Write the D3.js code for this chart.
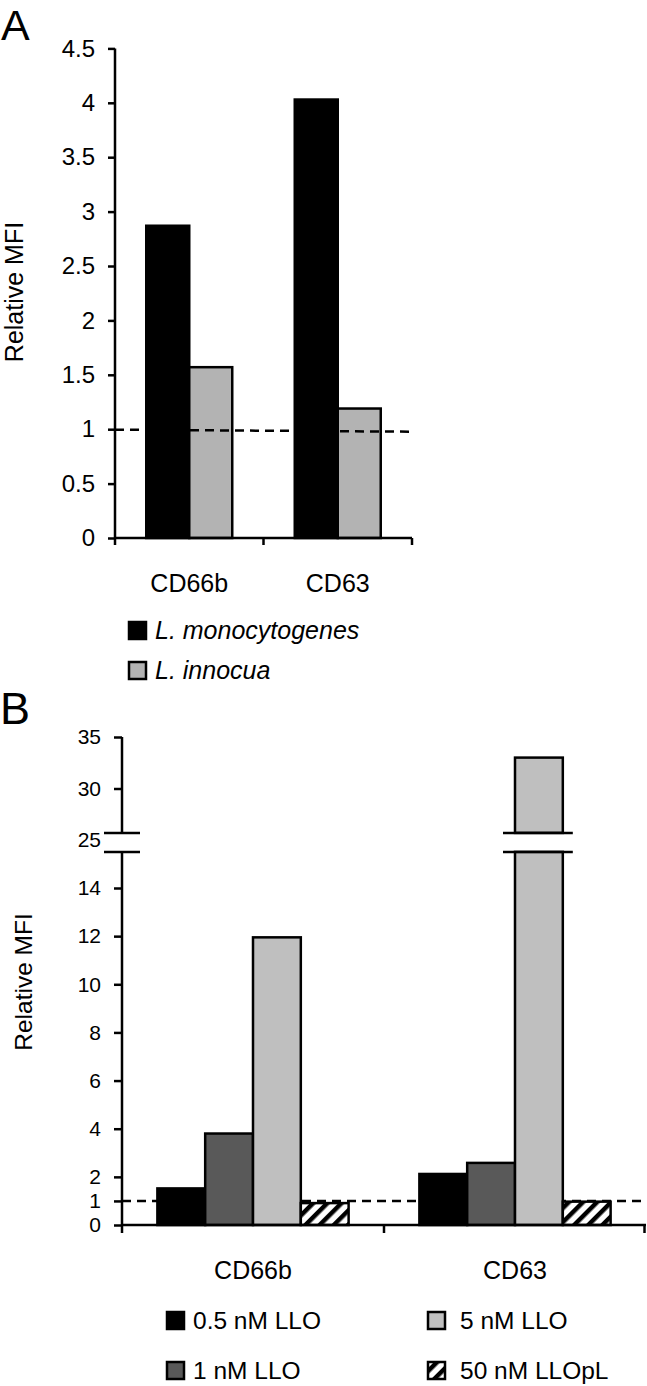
<!DOCTYPE html>
<html><head><meta charset="utf-8">
<script src="https://cdn.jsdelivr.net/npm/d3@7"></script>
<style>html,body{margin:0;padding:0;background:#fff;} svg{display:block;}</style>
</head><body>
<script>
// ---------- DATA ----------
const catsA = ["CD66b", "CD63"];
const seriesA = ["L. monocytogenes", "L. innocua"];
const valsA_Lm = [2.87, 4.03];
const valsA_Li = [1.57, 1.19];
const ticksA = [0, 0.5, 1, 1.5, 2, 2.5, 3, 3.5, 4, 4.5];

const catsB = ["CD66b", "CD63"];
const seriesB = ["0.5 nM LLO", "1 nM LLO", "5 nM LLO", "50 nM LLOpL"];
const valsB_05 = [1.52, 2.12];
const valsB_1 = [3.8, 2.58];
const valsB_5 = [11.95, 33];
const valsB_pL = [0.91, 0.97];
const ticksBLow = [0, 1, 2, 4, 6, 8, 10, 12, 14];
const ticksBHigh = [25, 30, 35];
const breakLowTop = 15.5;   // top of lower segment
const refLine = 1;

// ---------- SETUP ----------
const W = 647, H = 1386;
const FONT = "'Liberation Sans', Arial, Helvetica, sans-serif";
const svg = d3.select("body").append("svg").attr("width", W).attr("height", H)
  .style("font-family", FONT);

const defs = svg.append("defs");
const pat = defs.append("pattern").attr("id", "hatch").attr("patternUnits", "userSpaceOnUse")
  .attr("width", 10).attr("height", 10).attr("patternTransform", "rotate(45)");
pat.append("rect").attr("width", 10).attr("height", 10).attr("fill", "#fff");
pat.append("rect").attr("x", 0).attr("y", 0).attr("width", 4.5).attr("height", 10).attr("fill", "#000");

function styleAxis(g, size) {
  g.attr("font-family", FONT).attr("font-size", size);
  g.selectAll("line").attr("stroke", "#000").attr("stroke-width", 2.5);
  g.selectAll("text").attr("fill", "#000");
  g.select(".domain").remove();
}

// ---------- PANEL A ----------
svg.append("text").attr("x", 1).attr("y", 40).attr("font-size", 43).text("A");

const yA = d3.scaleLinear().domain([0, 4.5]).range([538, 48.4]);
const xA0 = d3.scaleBand().domain(catsA).range([115, 412]).padding(0);
const xA1 = d3.scaleBand().domain(seriesA).range([0, xA0.bandwidth()]).paddingInner(0).paddingOuter(0.727);
const colA = d3.scaleOrdinal().domain(seriesA).range(["#000000", "#b3b3b3"]);
const dataA = catsA.map((c, i) => ({cat: c, vals: [valsA_Lm[i], valsA_Li[i]]}));

const gA = svg.append("g");
dataA.forEach(d => {
  d.vals.forEach((v, j) => {
    const s = seriesA[j];
    gA.append("rect")
      .attr("x", xA0(d.cat) + xA1(s)).attr("width", xA1.bandwidth())
      .attr("y", yA(v)).attr("height", yA(0) - yA(v))
      .attr("fill", colA(s)).attr("stroke", "#000").attr("stroke-width", 2.5);
  });
});

// y axis A
const axA = svg.append("g").attr("transform", "translate(115,0)")
  .call(d3.axisLeft(yA).tickValues(ticksA).tickSize(7).tickPadding(13).tickFormat(d3.format("")));
styleAxis(axA, 24);
svg.append("line").attr("x1", 115).attr("x2", 115).attr("y1", yA(4.5)).attr("y2", yA(0))
  .attr("stroke", "#000").attr("stroke-width", 2.5);
// x axis A
svg.append("line").attr("x1", xA0.range()[0]).attr("x2", xA0.range()[1]).attr("y1", yA(0)).attr("y2", yA(0))
  .attr("stroke", "#000").attr("stroke-width", 2.5);
const bA = catsA.map(c => xA0(c)).concat([xA0.range()[1]]);
bA.forEach(x => svg.append("line").attr("x1", x).attr("x2", x).attr("y1", yA(0)).attr("y2", yA(0) + 7)
  .attr("stroke", "#000").attr("stroke-width", 2.5));
catsA.forEach(c => svg.append("text").attr("x", xA0(c) + xA0.bandwidth() / 2).attr("y", 592)
  .attr("text-anchor", "middle").attr("font-size", 25).text(c));
// dashed ref line (on top of bars)
svg.append("line").attr("x1", 115).attr("x2", 412).attr("y1", yA(refLine) + 0.5).attr("y2", yA(refLine) + 2.5)
  .attr("stroke", "#000").attr("stroke-width", 2.5).attr("stroke-dasharray", "9,6");
// y label
svg.append("text").attr("transform", "translate(23,292) rotate(-90)").attr("text-anchor", "middle")
  .attr("font-size", 25).text("Relative MFI");
// legend A
seriesA.forEach((s, j) => {
  const y0 = 622 + j * 40;
  svg.append("rect").attr("x", 129).attr("y", y0).attr("width", 17).attr("height", 17)
    .attr("fill", colA(s)).attr("stroke", "#000").attr("stroke-width", 2.5);
  svg.append("text").attr("x", 155).attr("y", y0 + 17).attr("font-size", 25)
    .attr("font-style", "italic").text(s);
});

// ---------- PANEL B ----------
svg.append("text").attr("x", 0).attr("y", 724).attr("font-size", 45).text("B");

const yLow = d3.scaleLinear().domain([0, 14]).range([1225, 888]);
const yHigh = d3.scaleLinear().domain([25, 35]).range([840, 737]);
const lowTopY = yLow(breakLowTop);     // ~852
const highBotY = lowTopY - 19;         // ~833
const xB0 = d3.scaleBand().domain(catsB).range([122, 646]).padding(0);
const xB1 = d3.scaleBand().domain(seriesB).range([0, xB0.bandwidth()]).paddingInner(0).paddingOuter(0.74);
const colB = d3.scaleOrdinal().domain(seriesB).range(["#000000", "#595959", "#bfbfbf", "url(#hatch)"]);
const dataB = catsB.map((c, i) => ({cat: c, vals: [valsB_05[i], valsB_1[i], valsB_5[i], valsB_pL[i]]}));

// dashed ref line (under bars)
svg.append("line").attr("x1", 122).attr("x2", 646).attr("y1", yLow(refLine)).attr("y2", yLow(refLine))
  .attr("stroke", "#000").attr("stroke-width", 2.5).attr("stroke-dasharray", "9,6");

const gB = svg.append("g");
const breaks = [];
dataB.forEach(d => {
  d.vals.forEach((v, j) => {
    const s = seriesB[j];
    const x = xB0(d.cat) + xB1(s), w = xB1.bandwidth();
    if (v <= breakLowTop) {
      gB.append("rect").attr("x", x).attr("width", w).attr("y", yLow(v)).attr("height", yLow(0) - yLow(v))
        .attr("fill", colB(s)).attr("stroke", "#000").attr("stroke-width", 2.5);
    } else {
      gB.append("rect").attr("x", x).attr("width", w).attr("y", lowTopY).attr("height", yLow(0) - lowTopY)
        .attr("fill", colB(s)).attr("stroke", "#000").attr("stroke-width", 2.5);
      gB.append("rect").attr("x", x).attr("width", w).attr("y", yHigh(v)).attr("height", highBotY - yHigh(v))
        .attr("fill", colB(s)).attr("stroke", "#000").attr("stroke-width", 2.5);
      breaks.push([x - 12, x + w + 10]);
    }
  });
});

// y axes B
const axBL = svg.append("g").attr("transform", "translate(122,0)")
  .call(d3.axisLeft(yLow).tickValues(ticksBLow).tickSize(8).tickPadding(13));
styleAxis(axBL, 21);
const axBH = svg.append("g").attr("transform", "translate(122,0)")
  .call(d3.axisLeft(yHigh).tickValues(ticksBHigh).tickSize(8).tickPadding(13));
styleAxis(axBH, 21);
axBH.selectAll(".tick").filter(d => d === 25).select("line").remove();
svg.append("line").attr("x1", 122).attr("x2", 122).attr("y1", lowTopY).attr("y2", yLow(0))
  .attr("stroke", "#000").attr("stroke-width", 2.5);
svg.append("line").attr("x1", 122).attr("x2", 122).attr("y1", yHigh(35)).attr("y2", highBotY)
  .attr("stroke", "#000").attr("stroke-width", 2.5);
// break marks
breaks.push([104, 140]);
breaks.forEach(([a, b]) => {
  [highBotY, lowTopY].forEach(y => svg.append("line").attr("x1", a).attr("x2", b).attr("y1", y).attr("y2", y)
    .attr("stroke", "#000").attr("stroke-width", 2.5));
});
// x axis B
svg.append("line").attr("x1", xB0.range()[0]).attr("x2", xB0.range()[1]).attr("y1", yLow(0)).attr("y2", yLow(0))
  .attr("stroke", "#000").attr("stroke-width", 2.5);
const bB = catsB.map(c => xB0(c)).concat([xB0.range()[1] - 1.5]);
bB.forEach(x => svg.append("line").attr("x1", x).attr("x2", x).attr("y1", yLow(0)).attr("y2", yLow(0) + 8)
  .attr("stroke", "#000").attr("stroke-width", 2.5));
catsB.forEach(c => svg.append("text").attr("x", xB0(c) + xB0.bandwidth() / 2).attr("y", 1279)
  .attr("text-anchor", "middle").attr("font-size", 25).text(c));
// y label B
svg.append("text").attr("transform", "translate(32,982) rotate(-90)").attr("text-anchor", "middle")
  .attr("font-size", 24.5).text("Relative MFI");
// legend B
const legPos = [[167, 1312], [167, 1362], [428, 1312], [428, 1362]];
seriesB.forEach((s, j) => {
  const [lx, ly] = legPos[j];
  svg.append("rect").attr("x", lx).attr("y", ly).attr("width", 17).attr("height", 17)
    .attr("fill", colB(s)).attr("stroke", "#000").attr("stroke-width", 2.5);
  svg.append("text").attr("x", lx + (j < 2 ? 26 : 32)).attr("y", ly + 17).attr("font-size", 24.5).text(s);
});
</script>
</body></html>
